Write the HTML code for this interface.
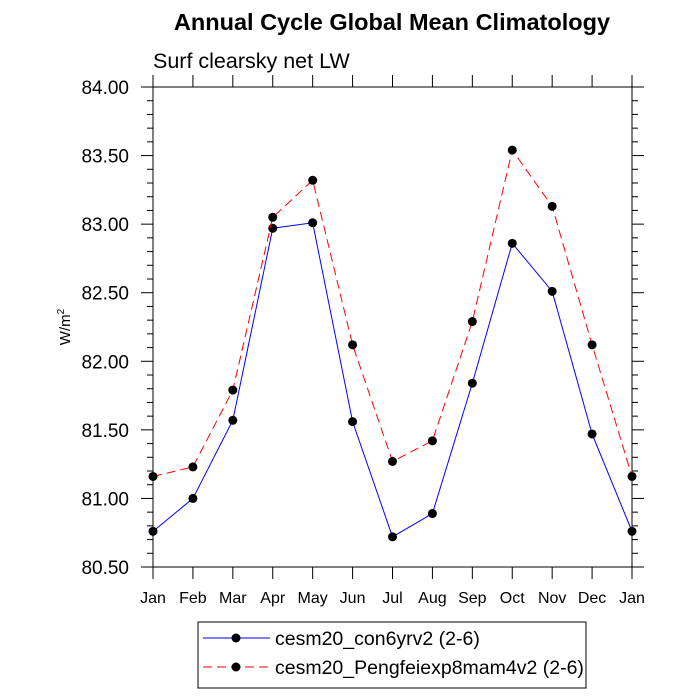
<!DOCTYPE html>
<html><head><meta charset="utf-8"><style>body{margin:0;background:#fff}svg{display:block;font-family:"Liberation Sans",sans-serif}</style></head>
<body>
<svg id="chart" width="700" height="700" xmlns="http://www.w3.org/2000/svg">
<text x="392" y="30" font-size="23.5" font-weight="bold" text-anchor="middle">Annual Cycle Global Mean Climatology</text>
<text x="153" y="68" font-size="21.5">Surf clearsky net LW</text>
<text transform="translate(70,327) rotate(-90)" font-size="15" text-anchor="middle">W/m<tspan dy="-6" font-size="10">2</tspan></text>
<g id="axes"></g>
<g id="series"></g>
<g>
<rect x="198" y="622" width="388" height="66" fill="none" stroke="#000" stroke-width="1"/>
<line x1="203" y1="638" x2="270" y2="638" stroke="#0000ff" stroke-width="1"/>
<circle cx="236" cy="638" r="4.5" fill="#000"/>
<text x="275" y="645" font-size="19.5">cesm20_con6yrv2 (2-6)</text>
<line x1="203" y1="667" x2="270" y2="667" stroke="#ff0000" stroke-width="1" stroke-dasharray="9,5"/>
<circle cx="236" cy="667" r="4.5" fill="#000"/>
<text x="275" y="674" font-size="19.5">cesm20_Pengfeiexp8mam4v2 (2-6)</text>
</g>
</svg>
<script>
const months=["Jan","Feb","Mar","Apr","May","Jun","Jul","Aug","Sep","Oct","Nov","Dec","Jan"];
const seriesA=[80.76,81.00,81.57,82.97,83.01,81.56,80.72,80.89,81.84,82.86,82.51,81.47,80.76];
const seriesB=[81.16,81.23,81.79,83.05,83.32,82.12,81.27,81.42,82.29,83.54,83.13,82.12,81.16];
const yTicks=[80.5,81,81.5,82,82.5,83,83.5,84];
const X0=153,X1=632,Y0=567,Y1=87,YMIN=80.5,YMAX=84;
const NS="http://www.w3.org/2000/svg";
function x(i){return X0+(X1-X0)*i/(months.length-1);}
function y(v){return Y0-(v-YMIN)/(YMAX-YMIN)*(Y0-Y1);}
function mk(tag,attrs,parent){const e=document.createElementNS(NS,tag);for(const k in attrs)e.setAttribute(k,attrs[k]);parent.appendChild(e);return e;}
const ax=document.getElementById('axes');
const fr=mk('rect',{x:X0,y:Y1,width:X1-X0,height:Y0-Y1,fill:'none',stroke:'#000','stroke-width':1},ax);


months.forEach((m,i)=>{
 mk('line',{x1:x(i),y1:Y0,x2:x(i),y2:Y0+12,stroke:'#000'},ax);
 mk('line',{x1:x(i),y1:Y1,x2:x(i),y2:Y1-12,stroke:'#000'},ax);
 const t=mk('text',{x:x(i),y:Y0+36,'font-size':16,'text-anchor':'middle'},ax);
 
 
 t.textContent=m;
});
yTicks.forEach((v,i)=>{
 mk('line',{x1:X0-12,y1:y(v),x2:X0,y2:y(v),stroke:'#000'},ax);
 mk('line',{x1:X1,y1:y(v),x2:X1+12,y2:y(v),stroke:'#000'},ax);
 const t=mk('text',{x:X0-24,y:y(v)+7,'font-size':19,'text-anchor':'end'},ax);
 
 
 t.textContent=v.toFixed(2);
 if(i<yTicks.length-1){for(let k=1;k<5;k++){const vv=v+k*0.1;
  mk('line',{x1:X0-6,y1:y(vv),x2:X0,y2:y(vv),stroke:'#000'},ax);
  mk('line',{x1:X1,y1:y(vv),x2:X1+6,y2:y(vv),stroke:'#000'},ax);}}
});
const sg=document.getElementById('series');
function draw(vals,color,dash,name){
 const p=mk('polyline',{points:vals.map((v,i)=>x(i)+','+y(v)).join(' '),fill:'none',stroke:color,'stroke-width':1},sg);
 if(dash)p.setAttribute('stroke-dasharray',dash);
 
 
 vals.forEach((v,i)=>{const c=mk('circle',{cx:x(i),cy:y(v),r:4.5,fill:'#000'},sg);
  
  });
}
draw(seriesA,'#0000ff',null,'con6yrv2');
draw(seriesB,'#ff0000','9,5','pengfei');
</script>
</body></html>
